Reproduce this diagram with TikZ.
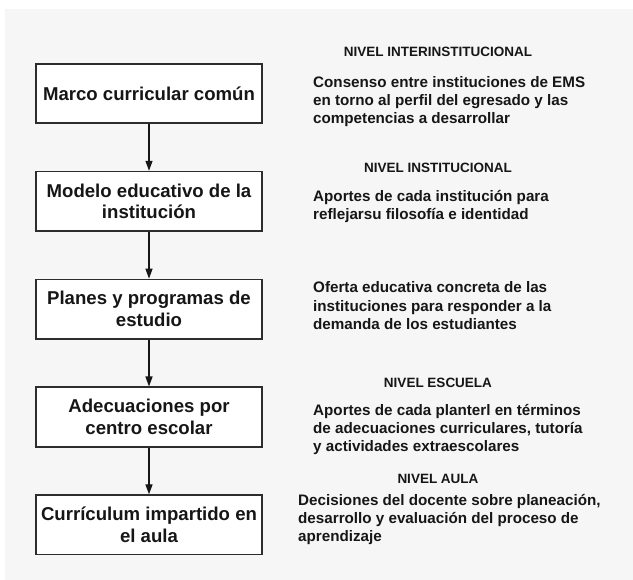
\documentclass[tikz,border=0pt]{standalone}
\usepackage{fontspec}
\setmainfont{Liberation Sans}
\usepackage{tikz}
\usepackage{xcolor}
\usetikzlibrary{arrows.meta,positioning}
\definecolor{bggray}{RGB}{246,246,246}
\definecolor{framegray}{RGB}{45,45,45}
\definecolor{inkblack}{RGB}{22,22,22}

\begin{document}
\begin{tikzpicture}[x=1pt,y=-1pt,node distance=46.75pt,
  stagebox/.style={rectangle,draw=framegray,line width=1.6pt,fill=white,align=center,minimum width=226.5pt,minimum height=59.5pt,inner sep=2pt,text=inkblack,font=\fontsize{18.6}{21.8}\selectfont\bfseries},
  desc/.style={anchor=north west,inner sep=0pt,align=left,text=inkblack,font=\fontsize{15.2}{18.3}\selectfont\bfseries},
  nivel/.style={anchor=north,inner sep=0pt,text=inkblack,font=\fontsize{13.5}{16}\selectfont\bfseries},
  flow/.style={-{Triangle[width=7pt,length=10pt]},line width=1.3pt,draw=inkblack}]
  \useasboundingbox (0,0) rectangle (633,580);
  \fill[bggray] (5,9) rectangle (633,580);

  % columna de etapas
  \node[stagebox] (marco) at (149,93.5) {Marco curricular común};
  \node[stagebox,below=of marco] (modelo) {Modelo educativo de la\\institución};
  \node[stagebox,below=of modelo] (planes) {Planes y programas de\\estudio};
  \node[stagebox,below=of planes] (adecua) {Adecuaciones por\\centro escolar};
  \node[stagebox,below=of adecua] (aula) {Currículum impartido en\\el aula};

  \draw[flow] (marco) -- (modelo);
  \draw[flow] (modelo) -- (planes);
  \draw[flow] (planes) -- (adecua);
  \draw[flow] (adecua) -- (aula);

  % niveles y descripciones
  \node[nivel] (nivinter) at (438,47) {NIVEL INTERINSTITUCIONAL};
  \node[desc] (descmarco) at (313,76) {Consenso entre instituciones de EMS\\en torno al perfil del egresado y las\\competencias a desarrollar};
  \node[nivel] (nivinst) at (438,162.7) {NIVEL INSTITUCIONAL};
  \node[desc] (descmodelo) at (313,190) {Aportes de cada institución para\\reflejarsu filosofía e identidad};
  \node[desc] (descplanes) at (313,281.5) {Oferta educativa concreta de las\\instituciones para responder a la\\demanda de los estudiantes};
  \node[nivel] (nivesc) at (438,378) {NIVEL ESCUELA};
  \node[desc] (descadecua) at (313,404) {Aportes de cada planterl en términos\\de adecuaciones curriculares, tutoría\\y actividades extraescolares};
  \node[nivel] (nivaula) at (438,474) {NIVEL AULA};
  \node[desc] (descaula) at (298,494) {Decisiones del docente sobre planeación,\\desarrollo y evaluación del proceso de\\aprendizaje};
\end{tikzpicture}
\end{document}
